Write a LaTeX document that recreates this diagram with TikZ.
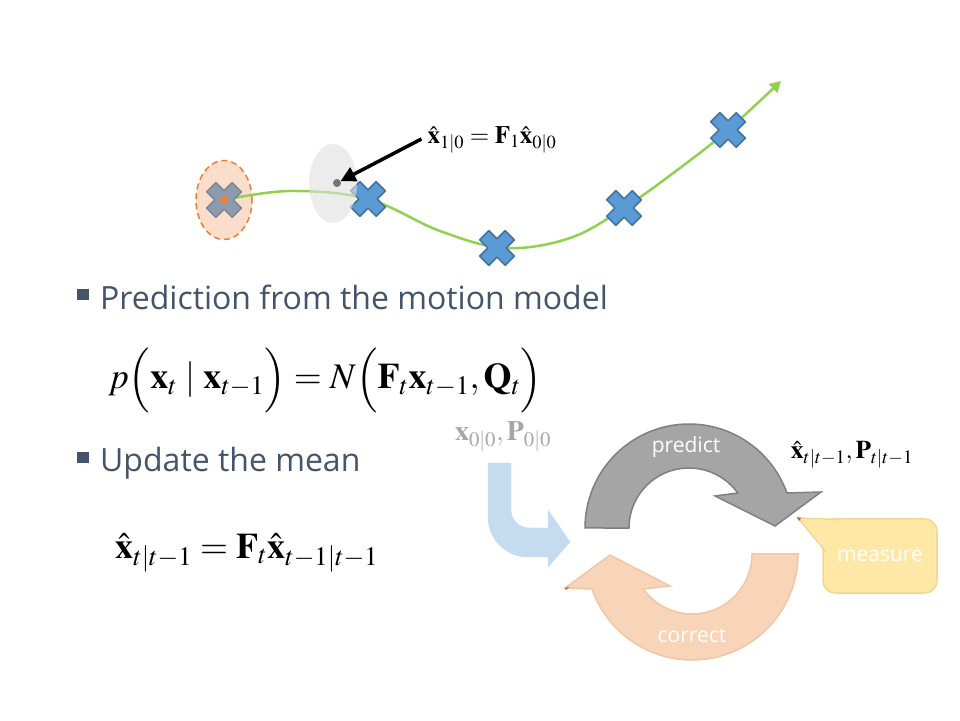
\documentclass[tikz,border=0pt]{standalone}
\usepackage{amsmath}
\usepackage{mathptmx}
\usepackage[no-math]{fontspec}
\setmainfont{Open Sans}
\usepackage{tikz}
\usetikzlibrary{arrows.meta}
\pgfdeclarelayer{background}
\pgfdeclarelayer{foreground}
\pgfsetlayers{background,main,foreground}

\definecolor{slate}{HTML}{44546A}
\definecolor{xblue}{HTML}{5B9BD5}
\definecolor{xblueline}{HTML}{41719C}
\definecolor{xgrey}{HTML}{8E9BAE}
\definecolor{xgreyline}{HTML}{7C8797}
\definecolor{trajgreen}{HTML}{92D050}
\definecolor{dashorange}{HTML}{ED7D31}
\definecolor{lightorange}{HTML}{FADDCB}
\definecolor{predfill}{HTML}{A5A5A5}
\definecolor{predline}{HTML}{7F7F7F}
\definecolor{corrfill}{HTML}{F8D4B9}
\definecolor{corrline}{HTML}{F0C6A6}
\definecolor{initblue}{HTML}{C5DBF0}
\definecolor{measfill}{HTML}{FFE8A6}
\definecolor{measline}{HTML}{EFD891}
\definecolor{lightlabel}{HTML}{A6A6A6}

\tikzset{
  bluex/.style={fill=xblue, draw=xblueline, line width=1.5pt, line join=round},
  greyx/.style={fill=xgrey, draw=xgreyline, line width=1.5pt, line join=round},
  traj/.style={draw=trajgreen, line width=2.5pt, -{Triangle[length=11pt,width=12pt]}},
  bullettext/.style={font=\fontsize{32}{38}\selectfont, text=slate, anchor=base west, inner sep=0pt},
  bulletsq/.style={fill=slate, draw=none},
  eqn/.style={font=\fontsize{36}{42}\selectfont, inner sep=0pt},
  cyclelbl/.style={font=\fontsize{21}{25}\selectfont, text=white, inner sep=0pt}
}

\begin{document}
\begin{tikzpicture}[x=1pt,y=1pt]
\useasboundingbox (0,0) rectangle (960,720);
% trajectory
\begin{pgfonlayer}{background}
\draw[draw=dashorange, fill=lightorange, line width=1.5pt, dash pattern=on 6pt off 4pt] (224,520) ellipse [x radius=28, y radius=39.5];
\draw[traj] plot[smooth, tension=0.6] coordinates {(224,520) (290,529) (368,521) (440,489) (505,472) (570,482) (624,512) (680,552) (728,590) (781,639)};
\end{pgfonlayer}
\draw[greyx, shift={(224,520)}, rotate=45] (-6.5,-18) -- (6.5,-18) -- (6.5,-6.5) -- (18,-6.5) -- (18,6.5) -- (6.5,6.5) -- (6.5,18) -- (-6.5,18) -- (-6.5,6.5) -- (-18,6.5) -- (-18,-6.5) -- (-6.5,-6.5) -- cycle;
\fill[dashorange] (224,520) circle (4);
\foreach \cx/\cy in {368/521, 497/472, 624/512, 728/590}
  \draw[bluex, shift={(\cx,\cy)}, rotate=45] (-6.5,-18) -- (6.5,-18) -- (6.5,-6.5) -- (18,-6.5) -- (18,6.5) -- (6.5,6.5) -- (6.5,18) -- (-6.5,18) -- (-6.5,6.5) -- (-18,6.5) -- (-18,-6.5) -- (-6.5,-6.5) -- cycle;
\begin{pgfonlayer}{foreground}
\fill[black!12, fill opacity=0.6] (333,536.5) ellipse [x radius=24, y radius=39.5];
\fill[black!55] (337,537) circle (4) coordinate (preddot);
\node[font=\fontsize{25}{30}\selectfont, inner sep=0pt] (predlbl) at (492,580) {$\hat{\mathbf{x}}_{1|0}=\mathbf{F}_1\hat{\mathbf{x}}_{0|0}$};
\draw[line width=3.5pt, -{Triangle[length=15pt,width=15pt]}, shorten >=4pt] ([xshift=-6pt,yshift=1pt]predlbl.west) -- (preddot);
\end{pgfonlayer}

% bullets
\fill[bulletsq] (77,420) rectangle (89,431);
\node[bullettext] (bulleta) at (100,410) {Prediction from the motion model};
\node[eqn, anchor=west] (motion) at (108,340) {$p\Bigl(\mathbf{x}_t\mid\mathbf{x}_{t-1}\Bigr)=N\Bigl(\mathbf{F}_t\mathbf{x}_{t-1},\mathbf{Q}_t\Bigr)$};
\fill[bulletsq] (77,257) rectangle (89,268);
\node[bullettext] (bulletb) at (100,248) {Update the mean};
\node[eqn, anchor=west] (meanupd) at (115,167) {$\hat{\mathbf{x}}_{t|t-1}=\mathbf{F}_t\hat{\mathbf{x}}_{t-1|t-1}$};

% cycle
\filldraw[fill=initblue, draw=initblue] (488,257) -- (488,203) arc[start angle=180, end angle=270, radius=40] -- (548,163) -- (548,153) -- (570,178) -- (548,210) -- (548,192) -- (529,192) arc[start angle=270, end angle=180, radius=18] -- (511,257) -- cycle;
\filldraw[fill=predfill, draw=predline, line width=1.5pt] (585,192) arc[start angle=180, end angle=19.67, radius=104] -- (821,228) -- (775,194) -- (715,224) -- (737.7,227) arc[start angle=35.69, end angle=180, radius=60] -- cycle;
\filldraw[fill=corrfill, draw=corrline, line width=1.5pt] (798,166) arc[start angle=0, end angle=-160.72, radius=106] -- (565,132) -- (610,165) -- (670,134) -- (643.3,131) arc[start angle=-144.31, end angle=0, radius=60] -- cycle;
\fill[dashorange!80!black] (565,132) -- (569,133) -- (566,130) -- cycle;
% measure callout
\filldraw[fill=measfill, draw=measline, line width=1.5pt, rounded corners=12pt] (823,127) rectangle (937,201);
\fill[measfill] (798,202) -- (826,170) -- (840,199) -- cycle;
\draw[measline, line width=1.5pt] (826,168) -- (798,202) -- (838,200.5);
\fill[dashorange!80!black] (797,203) -- (801,202) -- (799,199) -- cycle;

\node[cyclelbl] (predict) at (686,273) {predict};
\node[cyclelbl] (correct) at (692,84) {correct};
\node[cyclelbl] (measure) at (880,164) {measure};
\node[font=\fontsize{28}{33}\selectfont, text=lightlabel, inner sep=0pt] (initlbl) at (503,283) {$\mathbf{x}_{0|0},\mathbf{P}_{0|0}$};
\node[font=\fontsize{25.5}{30}\selectfont, inner sep=0pt] (predout) at (852,265) {$\hat{\mathbf{x}}_{t|t-1},\mathbf{P}_{t|t-1}$};
\end{tikzpicture}
\end{document}
